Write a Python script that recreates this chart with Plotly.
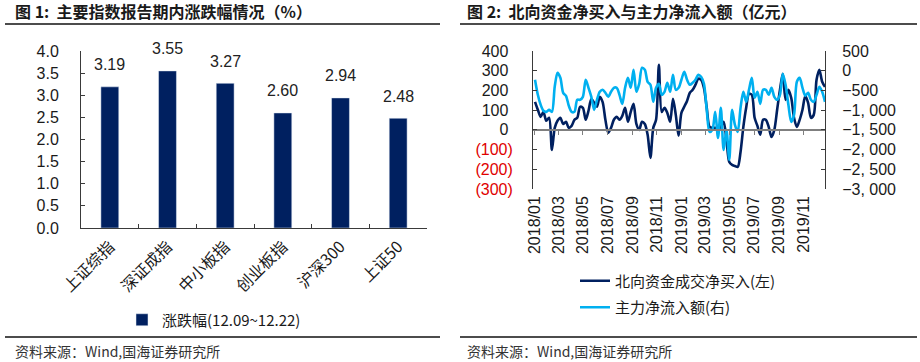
import plotly.graph_objects as go
import pandas as pd

W, H = 920, 362

# ---------------- Figure 1 data ----------------
categories = ["上证综指", "深证成指", "中小板指", "创业板指", "沪深300", "上证50"]
changes = [3.19, 3.55, 3.27, 2.60, 2.94, 2.48]
bar_name = "涨跌幅(12.09~12.22)"
title1 = "图 1:  主要指数报告期内涨跌幅情况（%）"

# ---------------- Figure 2 data ----------------
dates = pd.date_range("2018-01-02", periods=104, freq="7D")
northbound = [142, 102, 66, 91, 46, 61, -102, 10, 46, 61, 30, 41, 10, 20, 51, 61,
              117, 112, 51, 97, 157, 137, 117, 168, 142, 51, -15, 10, 51, 66, 51, 71,
              112, 41, 91, 132, 30, 0, 41, 30, -25, -142, 10, 51, 330, 91, 112, 86,
              41, 157, 76, -30, 86, 117, 147, 188, 203, 229, 259, 254, 213, 112, 15, 10,
              10, 5, 15, 41, -51, -163, -178, -183, -188, -112, 15, 112, 183, 178, 61, 20,
              -25, 51, 51, 15, -36, 0, 102, 203, 284, 152, 203, 163, 61, 15, 51, 102,
              173, 137, 61, 76, 254, 305, 244, 218]
main_flow = [-230, -611, -865, -1017, -1043, -992, -1043, -408, -52, -179, -560, -636, -890, -1043, -1043, -738,
             -738, -662, -230, -433, -662, -992, -738, -535, -484, -560, -662, -535, -433, -433, -611, -840,
             -433, -179, -433, 24, -535, -332, 75, 24, -281, -357, -789, -433, -332, -611, -535, -306,
             -535, -103, -484, -433, -230, -27, -230, -357, -306, -230, -103, -154, -332, -992, -1551, -1500,
             -1043, -1703, -941, -2008, -1500, -2262, -992, -1373, -1551, -941, -535, -789, -484, -179, -687, -535,
             -840, -484, -484, -611, -433, -662, -738, -611, -78, -357, -865, -1297, -1119, -281, -179, -433,
             -636, -560, -738, -789, -611, -408, -535, -789]
name_nb = "北向资金成交净买入(左)"
name_mf = "主力净流入额(右)"
title2 = "图 2:  北向资金净买入与主力净流入额（亿元）"
source_text = "资料来源：Wind,国海证券研究所"

left_tickvals = [-300, -200, -100, 0, 100, 200, 300, 400]
left_ticktext = ["(300)", "(200)", "(100)", "0", "100", "200", "300", "400"]
right_tickvals = [-3000, -2500, -2000, -1500, -1000, -500, 0, 500]
right_ticktext = ["−3, 000", "−2, 500", "−2, 000", "−1, 500", "−1, 000", "−500", "0", "500"]

# ---------------- styling ----------------
NAVY = "#002060"
LIGHT = "#00B0F0"
AXIS = "#3a3a3a"
FONT = "Liberation Sans, Noto Sans CJK SC, sans-serif"
CJK = "Noto Sans CJK SC, Liberation Sans, sans-serif"


def px_x(x):
    return x / W


def px_y(y):
    return 1 - y / H


fig = go.Figure()

fig.add_trace(go.Bar(
    x=categories, y=changes, name=bar_name, marker_color=NAVY,
    xaxis="x", yaxis="y", legend="legend", width=0.31,
))

fig.add_trace(go.Scatter(
    x=dates, y=northbound, name=name_nb, mode="lines",
    line=dict(color=NAVY, width=2.6, shape="spline", smoothing=0.8),
    xaxis="x2", yaxis="y2", legend="legend2", legendgroup="a",
))
fig.add_trace(go.Scatter(
    x=dates, y=main_flow, name=name_mf, mode="lines",
    line=dict(color=LIGHT, width=2.6, shape="spline", smoothing=0.8),
    xaxis="x2", yaxis="y3", legend="legend2", legendgroup="b",
))
# helper trace for the zero-line axis with ticks
fig.add_trace(go.Scatter(
    x=[dates[0]], y=[None], mode="lines", showlegend=False, hoverinfo="skip",
    xaxis="x3", yaxis="y2",
))

# bar value labels
for c, v in zip(categories, changes):
    fig.add_annotation(x=c, y=v, xref="x", yref="y", text=f"{v:.2f}", showarrow=False,
                       yshift=22, font=dict(size=16, color="#222", family=FONT))

y2_dom = [px_y(189), px_y(51)]
zero_pos = y2_dom[0] + (0 - (-300)) / 700 * (y2_dom[1] - y2_dom[0])

left_text = []
for t in left_ticktext:
    if t.startswith("("):
        left_text.append(f'<span style="color:#e00000">{t}</span>')
    else:
        left_text.append(t + "\u00a0")

fig.update_layout(
    width=W, height=H, margin=dict(l=0, r=0, t=0, b=0, autoexpand=False),
    paper_bgcolor="white", plot_bgcolor="white",
    font=dict(family=FONT, size=15, color="#1a1a1a"),
    bargap=0.69,
    xaxis=dict(domain=[px_x(81), px_x(427)], anchor="y", type="category",
               showline=True, linecolor=AXIS, linewidth=1, ticks="inside", ticklen=4,
               tickcolor=AXIS, tickson="boundaries", tickangle=-45,
               tickfont=dict(family=CJK, size=16, color="#1a1a1a"), showgrid=False,
               ticklabelstandoff=2, automargin=False),
    yaxis=dict(domain=[px_y(228), px_y(51)], anchor="x", range=[0, 4], dtick=0.5,
               tickformat=".1f", showline=True, linecolor=AXIS, linewidth=1,
               ticks="inside", ticklen=4, tickcolor=AXIS, showgrid=False, zeroline=False,
               ticklabelstandoff=18, tickfont=dict(size=16), automargin=False),
    xaxis2=dict(domain=[px_x(533), px_x(825)], anchor="y2",
                range=["2017-12-28", "2019-12-24"], type="date",
                tick0="2018-01-01", dtick="M2", tickformat="%Y/%m", tickangle=-90,
                showline=False, ticks="", showgrid=False, zeroline=False,
                tickfont=dict(size=16), ticklabelstandoff=3, automargin=False),
    xaxis3=dict(matches="x2", overlaying="x2", anchor="free", position=zero_pos,
                range=["2017-12-28", "2019-12-24"], type="date",
                tick0="2018-01-01", dtick="M2", showticklabels=False,
                showline=True, linecolor="#7f7f7f", linewidth=1.5,
                ticks="outside", ticklen=4, tickcolor="#7f7f7f", showgrid=False,
                automargin=False),
    yaxis2=dict(domain=y2_dom, anchor="x2", range=[-300, 400],
                tickvals=left_tickvals, ticktext=left_text,
                showline=True, linecolor=AXIS, linewidth=1, ticks="inside", ticklen=4,
                tickcolor=AXIS, showgrid=False, zeroline=False,
                ticklabelstandoff=16, tickfont=dict(size=16), automargin=False),
    yaxis3=dict(overlaying="y2", side="right", anchor="x2", range=[-3000, 500],
                tickvals=right_tickvals, ticktext=right_ticktext,
                showline=True, linecolor=AXIS, linewidth=1, ticks="inside", ticklen=4,
                tickcolor=AXIS, showgrid=False, zeroline=False,
                ticklabelstandoff=13, tickfont=dict(size=16), automargin=False),
    legend=dict(x=px_x(122), y=px_y(320), xanchor="left", yanchor="middle",
                font=dict(family=CJK, size=15, color="#1a1a1a"), itemwidth=30,
                bgcolor="rgba(0,0,0,0)"),
    legend2=dict(x=px_x(575), y=px_y(294), xanchor="left", yanchor="middle",
                 font=dict(family=CJK, size=15, color="#1a1a1a"), itemwidth=30,
                 tracegroupgap=4, bgcolor="rgba(0,0,0,0)"),
    showlegend=True,
)

# titles
fig.add_annotation(x=px_x(13), y=px_y(11), xref="paper", yref="paper", xanchor="left",
                   yanchor="middle", text=f"<b>{title1}</b>", showarrow=False,
                   font=dict(family=CJK, size=16, color="#1a1a1a"))
fig.add_annotation(x=px_x(465), y=px_y(11), xref="paper", yref="paper", xanchor="left",
                   yanchor="middle", text=f"<b>{title2}</b>", showarrow=False,
                   font=dict(family=CJK, size=16, color="#1a1a1a"))
# sources
for sx in (13, 465):
    fig.add_annotation(x=px_x(sx), y=px_y(351), xref="paper", yref="paper", xanchor="left",
                       yanchor="middle", text=source_text, showarrow=False,
                       font=dict(family=CJK, size=14, color="#333"))

# rule lines
for (x0, x1) in ((5, 440), (460, 917)):
    for yy in (24, 337):
        fig.add_shape(type="line", xref="paper", yref="paper",
                      x0=px_x(x0), x1=px_x(x1), y0=px_y(yy), y1=px_y(yy),
                      line=dict(color="#111", width=1.5))

fig.write_html("out.html", config={"displayModeBar": False},
               post_script="document.body.style.margin='0';")
